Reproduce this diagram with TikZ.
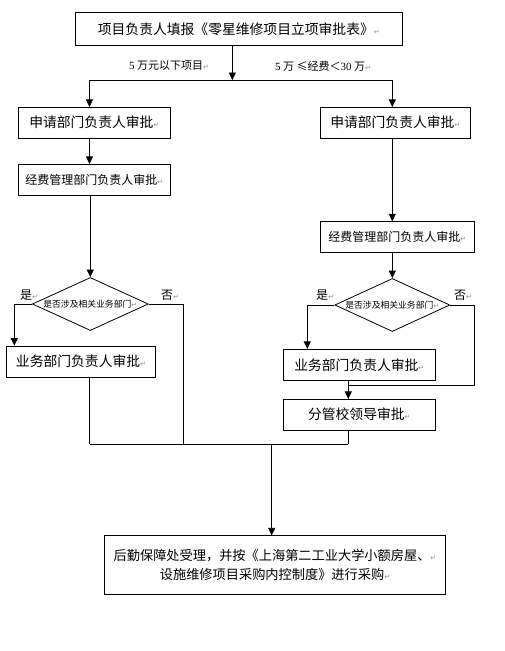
\documentclass[tikz,border=0pt]{standalone}
\usepackage{fontspec}
\setmainfont{Noto Sans CJK SC}
\newfontfamily\dejavu{DejaVu Sans}
\newfontfamily\lserif{Liberation Serif}
\usetikzlibrary{arrows.meta,shapes.geometric}
\newcommand\pmark{{\dejavu\color{black!45}\fontsize{7}{8}\selectfont ↵}}
\tikzset{
  box/.style={draw, line width=0.8pt, inner sep=0pt, align=center},
  fbig/.style={font=\fontsize{13.8}{18.5}\selectfont},
  fbot/.style={font=\fontsize{13.2}{18.5}\selectfont},
  fmid/.style={font=\fontsize{12}{14}\selectfont},
  dec/.style={draw, line width=0.8pt, shape=diamond, aspect=2.2, inner sep=0pt,
    minimum width=116pt, minimum height=53pt, font=\fontsize{8.8}{10}\selectfont},
  lbl/.style={inner sep=0pt, font=\fontsize{11}{12}\selectfont},
  yn/.style={inner sep=0pt, font=\fontsize{12}{13}\selectfont},
  conn/.style={line width=0.8pt},
  arr/.style={conn, -{Triangle[length=7.5pt,width=7pt]}}
}
\begin{document}
\begin{tikzpicture}[x=1pt,y=-1pt]
\useasboundingbox (0,0) rectangle (505,651);
% boxes
\node[box,fbig,minimum width=327pt,minimum height=32.3pt] (top) at (238.8,28.9) {项目负责人填报《零星维修项目立项审批表》\pmark};
\node[box,fbig,minimum width=152pt,minimum height=30.7pt] (L1) at (94.3,122.7) {申请部门负责人审批\pmark};
\node[box,fbig,minimum width=150pt,minimum height=30.7pt] (R1) at (395.3,122.7) {申请部门负责人审批\pmark};
\node[box,fmid,minimum width=152pt,minimum height=31pt] (L2) at (94.3,179.8) {经费管理部门负责人审批\pmark};
\node[box,fmid,minimum width=154pt,minimum height=30.6pt] (R2) at (397.3,237) {经费管理部门负责人审批\pmark};
\node[dec] (LD) at (90.3,304) {是否涉及相关业务部门\pmark};
\node[dec,minimum width=115pt] (RD) at (392.3,305) {是否涉及相关业务部门\pmark};
\node[box,fbig,minimum width=149.4pt,minimum height=31.3pt] (L3) at (81,361.7) {业务部门负责人审批\pmark};
\node[box,fbig,minimum width=152pt,minimum height=31pt] (R3) at (359.3,364.8) {业务部门负责人审批\pmark};
\node[box,fbig,minimum width=152pt,minimum height=30.7pt] (R4) at (359.3,414.7) {分管校领导审批\pmark};
\node[box,fbot,minimum width=341.4pt,minimum height=58.3pt] (bot) at (275,564.9) {后勤保障处受理，并按《上海第二工业大学小额房屋、\pmark\\设施维修项目采购内控制度》进行采购\pmark};
% labels
\node[lbl] (la) at (169,66) {{\lserif 5} 万元以下项目\pmark};
\node[lbl] (lb) at (323,66) {{\lserif 5} 万 ≤经费＜{\lserif 30} 万\pmark};
\node[yn] (ly1) at (29,295) {是\pmark};
\node[yn] (ln1) at (170,295) {否\pmark};
\node[yn] (ly2) at (325,295) {是\pmark};
\node[yn] (ln2) at (463,295) {否\pmark};
% coordinates
\coordinate (split) at (232.3,80);
\coordinate (sl) at (89.5,80);
\coordinate (sr) at (392.3,80);
\coordinate (lyx) at (14.3,0);
\coordinate (lno) at (183,444.3);
\coordinate (rm) at (348.3,444.3);
\coordinate (ryx) at (307.3,0);
\coordinate (rno) at (474.3,385);
\coordinate (mg) at (271.7,444.3);
% connectors
\draw[arr] (top.south -| split) -- (split);
\draw[conn] (sl) -- (sr);
\draw[arr] (sl) -- (sl |- L1.north);
\draw[arr] (sr) -- (sr |- R1.north);
\draw[arr] (sl |- L1.south) -- (sl |- L2.north);
\draw[arr] (L2.south -| LD.north) -- (LD.north);
\draw[arr] (R1.south -| sr) -- (sr |- R2.north);
\draw[arr] (R2.south -| RD.north) -- (RD.north);
\draw[arr] (LD.west) -| (lyx |- L3.north);
\draw[conn] (LD.east) -| (lno);
\draw[conn] (sl |- L3.south) -- (sl |- lno);
\draw[conn] (sl |- lno) -- (rm);
\draw[arr] (RD.west) -| (ryx |- R3.north);
\draw[conn] (RD.east) -| (rno) -- (rno -| rm);
\draw[arr] (rm |- R3.south) -- (rm |- R4.north);
\draw[conn] (rm |- R4.south) -- (rm);
\draw[arr] (mg) -- (mg |- bot.north);
\end{tikzpicture}
\end{document}
